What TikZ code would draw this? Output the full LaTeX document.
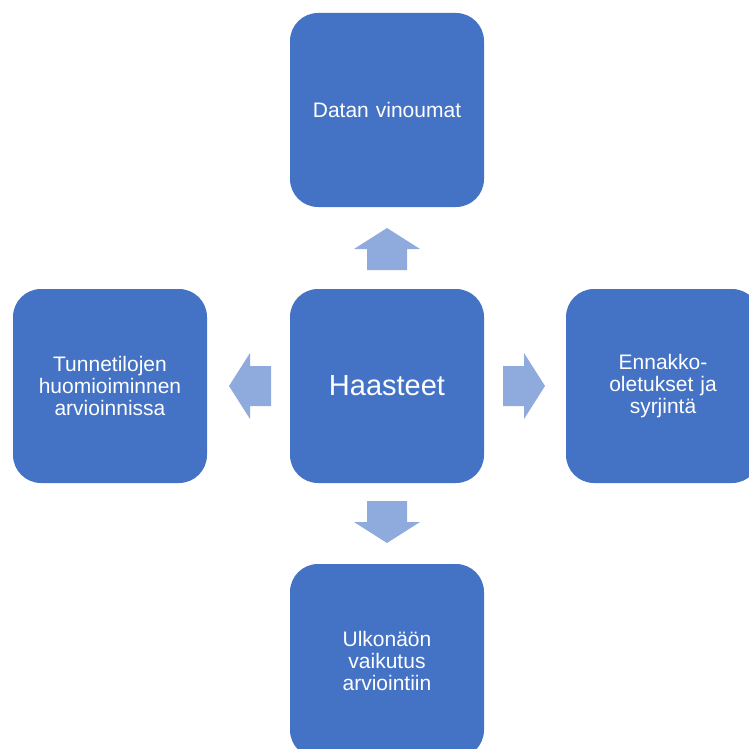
\documentclass[tikz,border=0pt]{standalone}
\usepackage{fontspec}
\setmainfont{Liberation Sans}
\definecolor{boxblue}{HTML}{4472C4}
\definecolor{arrowblue}{HTML}{8FAADC}
\begin{document}
\begin{tikzpicture}[x=1pt,y=1pt,
  box/.style={fill=boxblue, draw=none, rounded corners=28pt, minimum width=194pt, minimum height=194pt,
    text=white, align=center, text width=180pt, inner sep=0pt, font=\fontsize{21}{22}\selectfont},
  blockarrow/.style={fill=arrowblue, draw=none}]
\useasboundingbox (0,0) rectangle (749,-749);
\clip (0,0) rectangle (749,-749);
\node[box] (top) at (387,-110) {Datan vinoumat};
\node[box, font=\fontsize{29}{32}\selectfont] (center) at (387,-386) {Haasteet};
\node[box] (left) at (110,-386) {Tunnetilojen\\huomioiminnen\\arvioinnissa};
\node[box] (right) at (663,-386) {Ennakko-\\oletukset ja\\syrjintä};
\node[box] (bottom) at (387,-661) {Ulkonäön\\vaikutus\\arviointiin};
\foreach \pos/\ang in {{(387,-249)}/0, {(250,-386)}/90, {(524,-386)}/-90, {(387,-522)}/180}{
  \fill[blockarrow, shift={\pos}, rotate=\ang]
    (0,21) -- (33,0) -- (20,0) -- (20,-21) -- (-20,-21) -- (-20,0) -- (-33,0) -- cycle;
}
\end{tikzpicture}
\end{document}
